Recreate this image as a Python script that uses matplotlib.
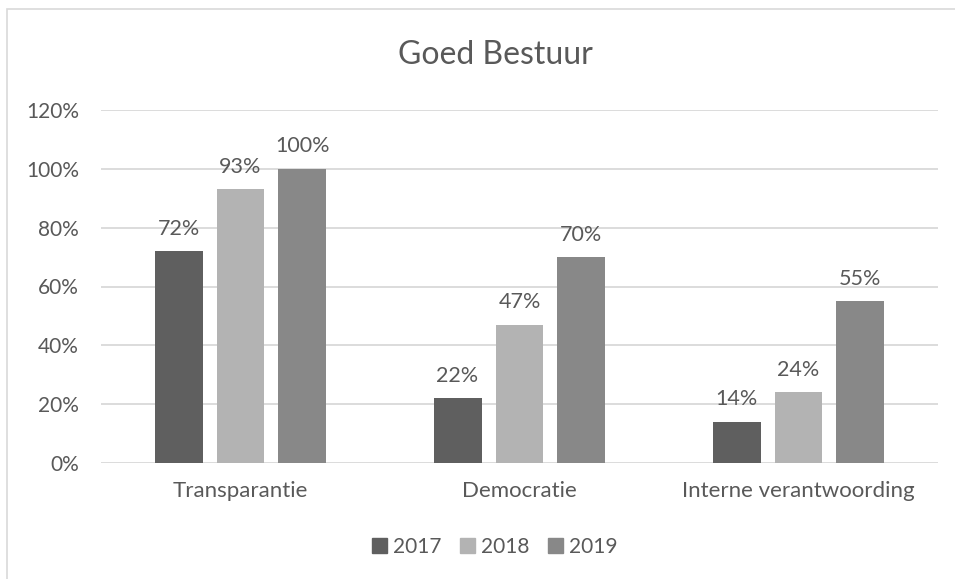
import matplotlib
matplotlib.use("Agg")
import matplotlib.pyplot as plt
from matplotlib.patches import Patch, Rectangle
import numpy as np

categories = ["Transparantie", "Democratie", "Interne verantwoording"]
years = ["2017", "2018", "2019"]
values_2017 = [0.72, 0.22, 0.14]
values_2018 = [0.93, 0.47, 0.24]
values_2019 = [1.00, 0.70, 0.55]
y_ticks = [0, 0.2, 0.4, 0.6, 0.8, 1.0, 1.2]

colors = ["#5f5f5f", "#b3b3b3", "#888888"]
text_color = "#595959"
grid_color = "#d9d9d9"

plt.rcParams["font.family"] = ["Lato", "DejaVu Sans"]

fig = plt.figure(figsize=(9.55, 5.79), dpi=100)
ax = fig.add_axes([101 / 955, 116 / 579, 837 / 955, 353 / 579])

# chart frame (cropped at right and bottom, like the source)
fig.patches.append(Rectangle((7 / 955, -0.1), 1.2, 1 - 9 / 579 + 0.1,
                             transform=fig.transFigure, fill=False,
                             edgecolor=grid_color, linewidth=1.2))

x = np.arange(len(categories))
width = 0.172
step = 0.222
series = [values_2017, values_2018, values_2019]
for i, vals in enumerate(series):
    bars = ax.bar(x + (i - 1) * step, vals, width, color=colors[i], label=years[i], zorder=3)
    for b, v in zip(bars, vals):
        ax.annotate(f"{round(v * 100)}%", (b.get_x() + b.get_width() / 2, v),
                    xytext=(0, 9), textcoords="offset points", ha="center",
                    va="bottom", fontsize=15.5, color=text_color)

ax.set_xlim(-0.5, 2.5)
ax.set_ylim(0, 1.2)
ax.set_yticks(y_ticks)
ax.set_yticklabels([f"{round(t * 100)}%" for t in y_ticks])
ax.set_xticks(x)
ax.set_xticklabels(categories)
ax.tick_params(axis="y", length=0, pad=16, labelsize=15, labelcolor=text_color)
ax.tick_params(axis="x", length=0, pad=13, labelsize=16, labelcolor=text_color)
ax.grid(axis="y", color=grid_color, linewidth=1.3, zorder=0)
for s in ax.spines.values():
    s.set_visible(False)

fig.text(495 / 955, 1 - 55 / 579, "Goed Bestuur", ha="center", va="center",
         fontsize=23, color=text_color)

handles = [Patch(color=c, label=y) for c, y in zip(colors, years)]
fig.legend(handles=handles, loc="center", bbox_to_anchor=(495 / 955, 1 - 547 / 579),
           ncol=3, frameon=False, fontsize=15, labelcolor=text_color,
           handlelength=0.7, handleheight=0.7, handletextpad=0.3, columnspacing=0.9)

fig.savefig("out.png", dpi=100, facecolor="white")
